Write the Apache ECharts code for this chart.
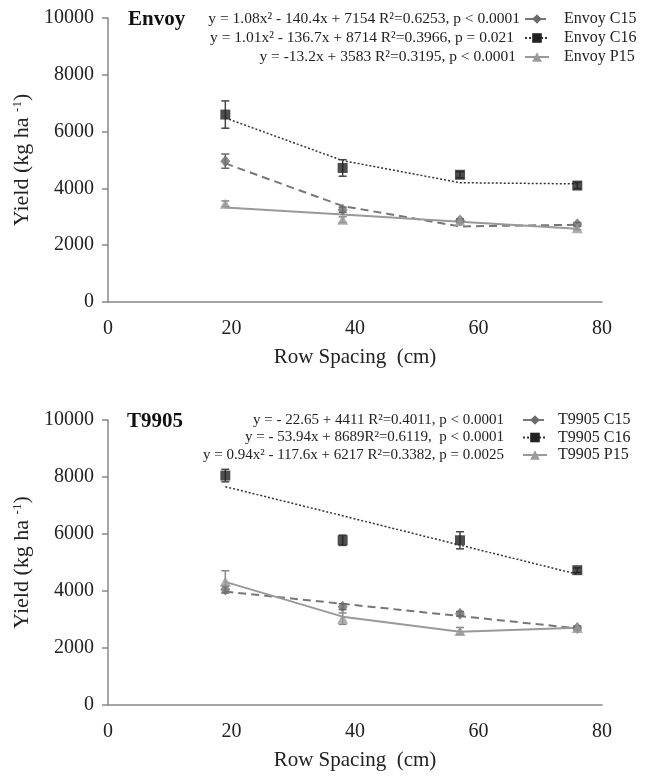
<!DOCTYPE html>
<html>
<head>
<meta charset="utf-8">
<script src="https://cdn.jsdelivr.net/npm/echarts@6/dist/echarts.min.js"></script>
<style>
  html, body { margin: 0; padding: 0; background: #fff; }
  #chart { width: 650px; height: 776px; }
</style>
</head>
<body>
<div id="chart"></div>
<script>
// row spacing (cm)
const rowSpacing = [19, 38, 57, 76];

// Envoy, observed means and errors
const envoyC15 = [4960, 3250, 2870, 2740];
const envoyC15Err = [250, 90, 60, 60];
const envoyC16 = [6600, 4720, 4480, 4100];
const envoyC16Err = [480, 290, 110, 110];
const envoyP15 = [3460, 2900, 2850, 2600];
const envoyP15Err = [100, 100, 60, 60];
// Envoy, fitted lines
const envoyC15Fit = [4880, 3380, 2660, 2720];
const envoyC16Fit = [6480, 4980, 4200, 4160];
const envoyP15Fit = [3330, 3080, 2830, 2580];

// T9905, observed means and errors
const t9905C15 = [4050, 3450, 3200, 2700];
const t9905C15Err = [120, 100, 80, 60];
const t9905C16 = [8050, 5780, 5780, 4730];
const t9905C16Err = [220, 180, 300, 80];
const t9905P15 = [4330, 3030, 2600, 2700];
const t9905P15Err = [380, 200, 120, 80];
// T9905, fitted lines
const t9905C15Fit = [3980, 3550, 3120, 2690];
const t9905C16Fit = [7660, 6640, 5610, 4590];
const t9905P15Fit = [4320, 3100, 2570, 2710];

const envoyEq = [
  'y = 1.08x² - 140.4x + 7154 R²=0.6253, p < 0.0001',
  'y = 1.01x² - 136.7x + 8714 R²=0.3966, p = 0.021',
  'y = -13.2x + 3583 R²=0.3195, p < 0.0001'
];
const t9905Eq = [
  'y = - 22.65 + 4411 R²=0.4011, p < 0.0001',
  'y = - 53.94x + 8689R²=0.6119,  p < 0.0001',
  'y = 0.94x² - 117.6x + 6217 R²=0.3382, p = 0.0025'
];

const FONT = "'Liberation Serif', 'Times New Roman', serif";

const styles = {
  C15: { color: '#6b6b6b', symbol: 'diamond', size: [10, 12], line: { type: [8, 5], width: 2, color: '#777' }, err: '#666' },
  C16: { color: '#222', symbol: 'rect', size: 10, line: { type: [2, 2], width: 1.5, color: '#333' }, err: '#444' },
  P15: { color: '#9a9a9a', symbol: 'triangle', size: [11, 10], line: { type: 'solid', width: 2, color: '#999' }, err: '#888' }
};

function pairs(ys) {
  return rowSpacing.map((x, i) => [x, ys[i]]);
}

function errData(ys, errs) {
  return rowSpacing.map((x, i) => [x, ys[i] - errs[i], ys[i] + errs[i]]);
}

function renderErr(color) {
  return function (params, api) {
    const x = api.value(0);
    const lo = api.coord([x, api.value(1)]);
    const hi = api.coord([x, api.value(2)]);
    const w = 4;
    const st = { stroke: color, lineWidth: 1.5 };
    return {
      type: 'group',
      children: [
        { type: 'line', shape: { x1: hi[0], y1: hi[1], x2: lo[0], y2: lo[1] }, style: st },
        { type: 'line', shape: { x1: hi[0] - w, y1: hi[1], x2: hi[0] + w, y2: hi[1] }, style: st },
        { type: 'line', shape: { x1: lo[0] - w, y1: lo[1], x2: lo[0] + w, y2: lo[1] }, style: st }
      ]
    };
  };
}

function makeSeries(name, key, idx, obs, err, fit) {
  const s = styles[key];
  return [
    {
      name: name, type: 'line', xAxisIndex: idx, yAxisIndex: idx,
      data: pairs(fit), symbol: s.symbol, showSymbol: false,
      itemStyle: { color: s.color },
      lineStyle: s.line, z: 2, silent: true
    },
    {
      name: name, type: 'custom', xAxisIndex: idx, yAxisIndex: idx,
      data: errData(obs, err), renderItem: renderErr(s.err), z: 3, silent: true
    },
    {
      name: name, type: 'scatter', xAxisIndex: idx, yAxisIndex: idx,
      data: pairs(obs), symbol: s.symbol, symbolSize: s.size,
      itemStyle: { color: s.color }, z: 4
    }
  ];
}

const series = [].concat(
  makeSeries('Envoy C15', 'C15', 0, envoyC15, envoyC15Err, envoyC15Fit),
  makeSeries('Envoy C16', 'C16', 0, envoyC16, envoyC16Err, envoyC16Fit),
  makeSeries('Envoy P15', 'P15', 0, envoyP15, envoyP15Err, envoyP15Fit),
  makeSeries('T9905 C15', 'C15', 1, t9905C15, t9905C15Err, t9905C15Fit),
  makeSeries('T9905 C16', 'C16', 1, t9905C16, t9905C16Err, t9905C16Fit),
  makeSeries('T9905 P15', 'P15', 1, t9905P15, t9905P15Err, t9905P15Fit)
);

const axisLineStyle = { color: '#888', width: 1.5 };

function xAxis(idx) {
  return {
    type: 'value', gridIndex: idx, min: 0, max: 80, interval: 20,
    name: 'Row Spacing  (cm)', nameLocation: 'middle', nameGap: 55,
    nameTextStyle: { fontFamily: FONT, fontSize: 21, color: '#222', verticalAlign: 'middle' },
    axisLine: { lineStyle: axisLineStyle },
    axisTick: { show: false },
    splitLine: { show: false },
    axisLabel: { fontFamily: FONT, fontSize: 20, color: '#222', margin: 17 }
  };
}

function yAxis(idx) {
  return {
    type: 'value', gridIndex: idx, min: 0, max: 10000, interval: 2000,
    name: 'Yield (kg ha {sup|-1})', nameLocation: 'middle', nameGap: 84,
    nameTextStyle: {
      fontFamily: FONT, fontSize: 22, color: '#222', verticalAlign: 'middle',
      rich: { sup: { fontFamily: FONT, fontSize: 13, color: '#222', verticalAlign: 'top', padding: [0, 0, 8, 0] } }
    },
    axisLine: { show: true, lineStyle: axisLineStyle },
    axisTick: { show: true, length: 6, lineStyle: axisLineStyle },
    splitLine: { show: false },
    axisLabel: { fontFamily: FONT, fontSize: 20, color: '#222', margin: 14, formatter: v => String(v) }
  };
}

function legend(names, left, top, gap, pad) {
  return {
    orient: 'vertical', left: left, top: top, padding: 0,
    data: names, itemWidth: 24, itemHeight: 12, itemGap: gap,
    selectedMode: false,
    textStyle: { fontFamily: FONT, fontSize: 16, color: '#222', padding: [0, 0, 0, pad] }
  };
}

function eqTexts(lines, rights, ys, size) {
  return lines.map((t, i) => ({
    type: 'text', x: rights[i], y: ys[i],
    style: { text: t, fontFamily: FONT, fontSize: size, fill: '#222', align: 'right', verticalAlign: 'middle' }
  }));
}

const option = {
  backgroundColor: '#fff',
  animation: false,
  grid: [
    { left: 108, right: 48, top: 18, height: 284 },
    { left: 108, right: 48, top: 420, height: 285 }
  ],
  xAxis: [xAxis(0), xAxis(1)],
  yAxis: [yAxis(0), yAxis(1)],
  legend: [
    legend(['Envoy C15', 'Envoy C16', 'Envoy P15'], 524, 11, 3, 10),
    legend(['T9905 C15', 'T9905 C16', 'T9905 P15'], 522, 412, 1.5, 6)
  ],
  graphic: [
    { type: 'text', x: 128, y: 20, style: { text: 'Envoy', fontFamily: FONT, fontSize: 21, fontWeight: 'bold', fill: '#111', verticalAlign: 'middle' } },
    { type: 'text', x: 127, y: 422, style: { text: 'T9905', fontFamily: FONT, fontSize: 21, fontWeight: 'bold', fill: '#111', verticalAlign: 'middle' } }
  ].concat(
    eqTexts(envoyEq, [520, 514, 516], [19, 38, 57], 15.5),
    eqTexts(t9905Eq, [504, 504, 504], [420, 437.5, 455], 15)
  ),
  series: series
};

const chart = echarts.init(document.getElementById('chart'));
chart.setOption(option);
</script>
</body>
</html>
